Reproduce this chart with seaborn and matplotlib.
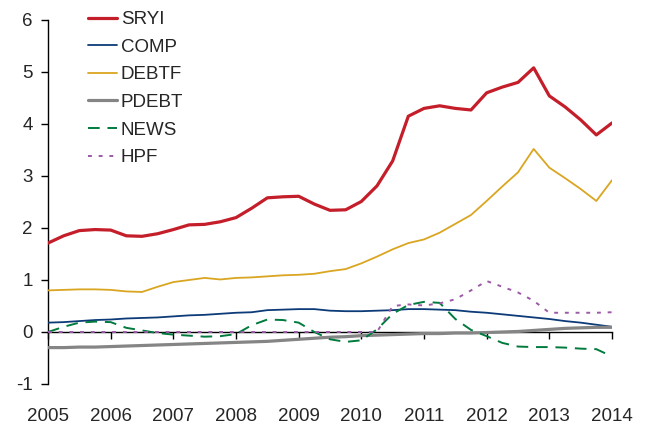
import numpy as np
import pandas as pd
import matplotlib.pyplot as plt
import seaborn as sns

# quarterly observations, 2005Q1 .. 2014Q1
quarters = 2005 + np.arange(37) / 4
years = list(range(2005, 2015))

sryi = [1.71, 1.85, 1.95, 1.97, 1.96, 1.85, 1.84, 1.89, 1.97, 2.06,
        2.07, 2.12, 2.20, 2.38, 2.58, 2.60, 2.61, 2.46, 2.34, 2.35,
        2.51, 2.81, 3.29, 4.15, 4.30, 4.35, 4.30, 4.27, 4.60, 4.71,
        4.80, 5.08, 4.54, 4.33, 4.08, 3.79, 4.02]
comp = [0.18, 0.19, 0.21, 0.23, 0.24, 0.26, 0.27, 0.28, 0.30, 0.32,
        0.33, 0.35, 0.37, 0.38, 0.42, 0.43, 0.44, 0.44, 0.41, 0.40,
        0.40, 0.41, 0.42, 0.44, 0.44, 0.43, 0.42, 0.39, 0.37, 0.34,
        0.31, 0.28, 0.25, 0.21, 0.18, 0.14, 0.10]
debtf = [0.80, 0.81, 0.82, 0.82, 0.81, 0.78, 0.77, 0.87, 0.96, 1.00,
         1.04, 1.01, 1.04, 1.05, 1.07, 1.09, 1.10, 1.12, 1.17, 1.21,
         1.32, 1.45, 1.59, 1.71, 1.78, 1.91, 2.08, 2.25, 2.52, 2.80,
         3.07, 3.52, 3.16, 2.96, 2.75, 2.52, 2.92]
pdebt = [-0.30, -0.30, -0.29, -0.29, -0.28, -0.27, -0.26, -0.25, -0.24, -0.23,
         -0.22, -0.21, -0.20, -0.19, -0.18, -0.16, -0.14, -0.12, -0.10, -0.09,
         -0.07, -0.06, -0.05, -0.04, -0.03, -0.03, -0.02, -0.02, -0.01, 0.00,
         0.01, 0.03, 0.05, 0.07, 0.08, 0.09, 0.09]
news = [0.00, 0.10, 0.18, 0.20, 0.19, 0.08, 0.03, -0.02, -0.05, -0.07,
        -0.09, -0.08, -0.04, 0.13, 0.24, 0.23, 0.18, 0.00, -0.14, -0.19,
        -0.16, 0.05, 0.35, 0.52, 0.58, 0.56, 0.25, 0.04, -0.08, -0.21,
        -0.28, -0.29, -0.29, -0.30, -0.32, -0.33, -0.47]
hpf = [0.0] * 22 + [0.50, 0.53, 0.51, 0.55, 0.63, 0.80, 0.98, 0.87,
                    0.76, 0.60, 0.37, 0.37, 0.37, 0.37, 0.38]

series = {'SRYI': sryi, 'COMP': comp, 'DEBTF': debtf,
          'PDEBT': pdebt, 'NEWS': news, 'HPF': hpf}
styles = {
    'SRYI': dict(color='#C41E2A', lw=2.3, ls='-'),
    'COMP': dict(color='#0C3B78', lw=1.3, ls='-'),
    'DEBTF': dict(color='#DAA520', lw=1.3, ls='-'),
    'PDEBT': dict(color='#858585', lw=2.3, ls='-'),
    'NEWS': dict(color='#007A3D', lw=1.4, ls=(0, (6, 4))),
    'HPF': dict(color='#9B59A6', lw=1.4, ls=(0, (2, 3.5))),
}

sns.set_style('ticks')
plt.rcParams['font.family'] = ['Liberation Sans', 'DejaVu Sans']
plt.rcParams['axes.unicode_minus'] = False

fig = plt.figure(figsize=(6.48, 4.24), dpi=100)
ax = fig.add_axes([48 / 648, 1 - 384 / 424, 564 / 648, 364 / 424])

for name, vals in series.items():
    st = styles[name]
    sns.lineplot(x=quarters, y=vals, ax=ax, label=name, color=st['color'],
                 linewidth=st['lw'], linestyle=st['ls'], zorder=3)

ax.set_xlim(2005, 2014)
ax.set_ylim(-1, 6)
ax.set_yticks(range(-1, 7))
ax.set_xticks(years)
ax.tick_params(axis='y', direction='out', length=5, width=1, pad=6,
               labelsize=13.5, color='black')
ax.tick_params(axis='x', length=0, pad=17, labelsize=13.5)
for s in ['top', 'right', 'bottom']:
    ax.spines[s].set_visible(False)
ax.spines['left'].set_color('black')
ax.spines['left'].set_linewidth(1)

# zero line carrying the year ticks
zero = ax.secondary_xaxis((0 - (-1)) / 7)
zero.set_xticks(years)
zero.tick_params(axis='x', direction='out', length=5, width=1,
                 labelbottom=False, color='black')
zero.spines['bottom'].set_color('black')
zero.spines['bottom'].set_linewidth(1)
zero.set_zorder(1)

ax.legend(loc='upper left', bbox_to_anchor=(88 / 648, 1 - 11 / 424),
          bbox_transform=fig.transFigure, frameon=False, fontsize=13.5,
          borderpad=0, borderaxespad=0, handlelength=1.55, handletextpad=0.2,
          labelspacing=0.56)

fig.savefig('out.png', dpi=100)
